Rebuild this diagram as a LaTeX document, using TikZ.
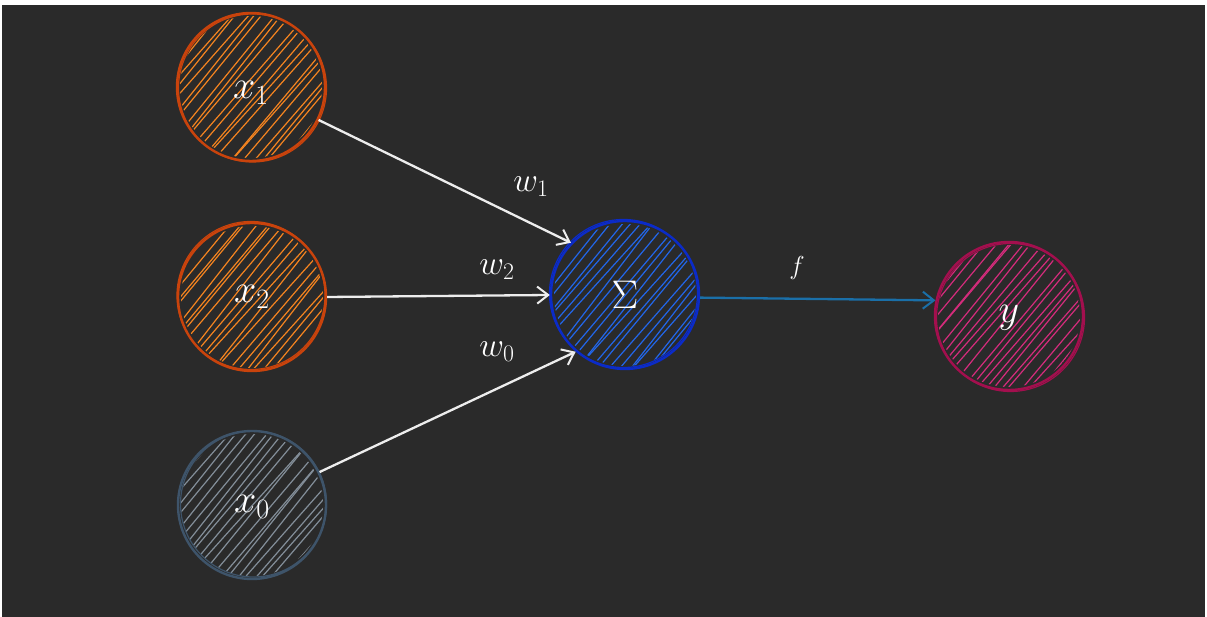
\documentclass[tikz,border=0pt]{standalone}
\usepackage{fix-cm}
\usetikzlibrary{arrows.meta}
\definecolor{bg}{HTML}{2A2A2A}
\definecolor{wht}{HTML}{EDEDED}
\definecolor{orS}{HTML}{C9430C}
\definecolor{orH}{HTML}{F58420}
\definecolor{blS}{HTML}{0B2BC8}
\definecolor{blH}{HTML}{2266EA}
\definecolor{pkS}{HTML}{A30F4E}
\definecolor{pkH}{HTML}{D42C7C}
\definecolor{slS}{HTML}{3E546A}
\definecolor{slH}{HTML}{838E99}
\definecolor{fA}{HTML}{1A6FA8}
\newcommand\hatchcirc[3]{%
  \begin{scope}
    \clip (#1) circle (#2);
    \begin{scope}[shift={(#1)}, rotate=50]
      \foreach \i in {-84,-77,...,84} {
        \draw[#3, line width=1.2pt, line cap=round] ({-90+rand*8},{\i+rand*4}) -- ({90+rand*8},{\i+rand*4});
      }
    \end{scope}
  \end{scope}}
\begin{document}
\begin{tikzpicture}[x=1pt,y=1pt,
  nd/.style={circle, minimum size=148pt, inner sep=0pt, line width=2.4pt},
  nl/.style={text=white, inner sep=0pt, font=\fontsize{40}{40}\selectfont},
  sk/.style={line width=1.2pt},
  wire/.style={draw=wht, line width=2.3pt, -{Straight Barb[length=11pt,width=17pt,line width=2pt]}},
  fwire/.style={draw=fA, line width=2.3pt, -{Straight Barb[length=11pt,width=17pt,line width=2pt]}},
  lbl/.style={text=white, inner sep=0pt, font=\fontsize{34}{34}\selectfont},
  flbl/.style={text=white, inner sep=0pt, font=\fontsize{26}{26}\selectfont}]
\pgfmathsetseed{7}
\useasboundingbox (0,0) rectangle (1207,617);
\fill[white] (0,0) rectangle (1207,617);
\fill[bg] (2,0) rectangle (1205,612);
% centres
\coordinate (cx1) at (251,530);
\coordinate (cx2) at (252,320);
\coordinate (cx0) at (252,112);
\coordinate (cs) at (625,322);
\coordinate (cy) at (1009,301);
% hatching
\hatchcirc{cx1}{71}{orH}
\hatchcirc{cx2}{71}{orH}
\hatchcirc{cx0}{71}{slH}
\hatchcirc{cs}{71}{blH}
\hatchcirc{cy}{71}{pkH}
% sketchy second outlines
\draw[orS, sk] ([shift={(1.5,-1)}]cx1) circle (74);
\draw[orS, sk] ([shift={(-1,1.5)}]cx2) circle (74);
\draw[slS, sk] ([shift={(1.5,1)}]cx0) circle (73);
\draw[blS, sk] ([shift={(-1.5,1.5)}]cs) circle (74);
\draw[pkS, sk] ([shift={(1.5,-1.5)}]cy) circle (74);
% nodes
\node[nd, draw=orS, label={[nl, yshift=-6pt]center:$x_1$}] (x1) at (cx1) {};
\node[nd, draw=orS, label={[nl]center:$x_2$}] (x2) at (cx2) {};
\node[nd, draw=slS, label={[nl, yshift=-2pt]center:$x_0$}] (x0) at (cx0) {};
\node[nd, draw=blS, label={[nl]center:$\Sigma$}] (S) at (cs) {};
\node[nd, draw=pkS, label={[nl, yshift=-2pt]center:$y$}] (y) at (cy) {};
% connectors
\draw[wire] (x1.-26) -- (S.136);
\draw[wire] (x2.east) -- (S.west);
\draw[wire] (x0.26) -- (S.229);
\draw[fwire] (S.-2) -- (y.168);
% labels
\node[lbl] (lw1) at (531,430) {$w_1$};
\node[lbl] (lw2) at (497,347) {$w_2$};
\node[lbl] (lw0) at (497,265) {$w_0$};
\node[flbl] (lf) at (797,349) {$f$};
\end{tikzpicture}
\end{document}
